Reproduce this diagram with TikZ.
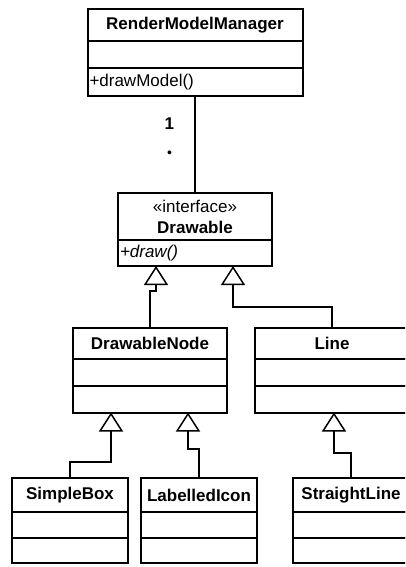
\documentclass[tikz,border=0pt]{standalone}
\usepackage{fontspec}
\setmainfont{Liberation Sans}
\usetikzlibrary{arrows.meta,positioning}

\begin{document}
\begin{tikzpicture}[x=1pt,y=-1pt,
  every node/.style={font=\fontsize{17}{21}\selectfont},
  cls/.style={draw,line width=2pt,inner sep=0pt,outer sep=0pt,align=center,font=\fontsize{17}{21}\selectfont\bfseries},
  part/.style={draw,line width=2pt,inner xsep=2pt,inner ysep=0pt,outer sep=0pt,align=left},
  gen/.style={line width=2pt,-{Triangle[open,length=19pt,width=24pt,line width=1.5pt]}}]
\useasboundingbox (0,0) rectangle (405,567);
\clip (0,0) rectangle (405,567);
\fill[white] (0,0) rectangle (405,567);

% manager
\node[cls,minimum width=215pt,minimum height=32pt] (rmm) at (195,25) {RenderModelManager};
\node[part,minimum width=215pt,minimum height=27pt,below=0pt of rmm] (rmm-a) {};
\node[part,text width=211pt,minimum height=28pt,below=0pt of rmm-a] (rmm-o) {+drawModel()};

% interface
\node[cls,minimum width=154pt,minimum height=47pt] (dr) at (195,216.5) {{\mdseries «interface»}\\Drawable};
\node[part,text width=150pt,minimum height=26pt,below=0pt of dr] (dr-o) {\itshape +draw()};

% middle row
\node[cls,minimum width=154pt,minimum height=31pt] (dn) at (150,343) {DrawableNode};
\node[part,minimum width=154pt,minimum height=27pt,below=0pt of dn] (dn-a) {};
\node[part,minimum width=154pt,minimum height=27pt,below=0pt of dn-a] (dn-o) {};
\node[cls,minimum width=154pt,minimum height=31pt] (ln) at (332,343) {Line};
\node[part,minimum width=154pt,minimum height=27pt,below=0pt of ln] (ln-a) {};
\node[part,minimum width=154pt,minimum height=27pt,below=0pt of ln-a] (ln-o) {};

% bottom row
\node[cls,minimum width=116pt,minimum height=34pt] (sb) at (70,495) {SimpleBox};
\node[part,minimum width=116pt,minimum height=26pt,below=0pt of sb] (sb-a) {};
\node[part,minimum width=116pt,minimum height=25pt,below=0pt of sb-a] (sb-o) {};
\node[cls,minimum width=116pt,minimum height=34pt] (li) at (199,495) {LabelledIcon};
\node[part,minimum width=116pt,minimum height=26pt,below=0pt of li] (li-a) {};
\node[part,minimum width=116pt,minimum height=25pt,below=0pt of li-a] (li-o) {};
\node[cls,minimum width=116pt,minimum height=34pt] (sl) at (351,495) {StraightLine};
\node[part,minimum width=116pt,minimum height=26pt,below=0pt of sl] (sl-a) {};
\node[part,minimum width=116pt,minimum height=25pt,below=0pt of sl-a] (sl-o) {};

% association
\draw[line width=1.8pt] (rmm-o) -- node[pos=.28,left=20pt,inner sep=0pt]{\bfseries 1}
  node[pos=.6,left=22pt,inner sep=0pt,font=\fontsize{14}{14}\selectfont]{•} (dr);

% generalizations
\draw[gen] (dn.north) -- ++(0,-37) -| ([xshift=-39pt]dr-o.south);
\draw[gen] (ln.north) -- ++(0,-21) -| ([xshift=38pt]dr-o.south);
\draw[gen] (sb.north) -- ++(0,-16) -| ([xshift=-39pt]dn-o.south);
\draw[gen] (li.north) -- ++(0,-29) -| ([xshift=38pt]dn-o.south);
\draw[gen] (sl.north) -- ++(0,-25) -| ([xshift=2pt]ln-o.south);
\end{tikzpicture}
\end{document}
